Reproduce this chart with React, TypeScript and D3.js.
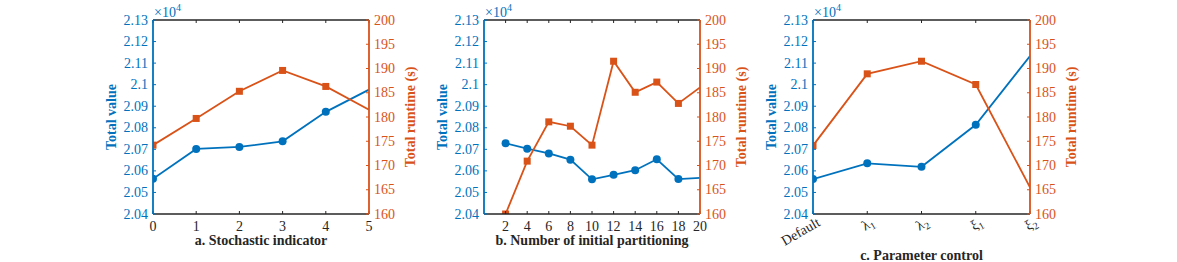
import React from 'react';
import * as d3 from 'd3';

// ---------- data ----------
const xA = [0, 1, 2, 3, 4, 5];
const valueA = [20563, 20702, 20711, 20737, 20874, 20977];
const runtimeA = [174.2, 179.7, 185.3, 189.6, 186.3, 181.5];

const xB = [2, 4, 6, 8, 10, 12, 14, 16, 18, 20];
const valueB = [20728, 20703, 20681, 20652, 20561, 20582, 20603, 20654, 20562, 20568];
const runtimeB = [160.0, 170.9, 179.0, 178.1, 174.2, 191.5, 185.1, 187.2, 182.8, 186.1];

const catsC = ['Default', 'λ1', 'λ2', 'ξ1', 'ξ2'];
const valueC = [20562, 20635, 20619, 20814, 21133];
const runtimeC = [174.1, 188.9, 191.5, 186.7, 165.5];

const leftTicks = [20400, 20500, 20600, 20700, 20800, 20900, 21000, 21100, 21200, 21300];
const rightTicks = [160, 165, 170, 175, 180, 185, 190, 195, 200];
const ticksA = [0, 1, 2, 3, 4, 5];
const ticksB = [2, 4, 6, 8, 10, 12, 14, 16, 18, 20];

const titles = ['a. Stochastic indicator', 'b. Number of initial partitioning', 'c. Parameter control'];

// ---------- style ----------
const BLUE = '#0072BD';
const ORANGE = '#D95319';
const DARK = '#262626';
const FONT = "'Liberation Serif', 'Times New Roman', Times, serif";
const TOP = 20;
const BOTTOM = 214;

type PanelProps = {
  id: string;
  left: number;
  right: number;
  xs: (number | string)[];
  values: number[];
  runtimes: number[];
  kind: 'linear' | 'point';
  xDomain?: [number, number];
  xTicks?: (number | string)[];
  title: string;
  titleY: number;
};

const T = (props: any) => <text {...props} style={{ fontFamily: FONT }} />;

function CatLabel({ s }: { s: string }) {
  if (s.length === 2 && /[0-9]/.test(s[1])) {
    return (
      <>
        {s[0]}
        <tspan fontSize={10} dy={3}>{s[1]}</tspan>
      </>
    );
  }
  return <>{s}</>;
}

function Panel(p: PanelProps) {
  const yL = d3.scaleLinear().domain([20400, 21300]).range([BOTTOM, TOP]);
  const yR = d3.scaleLinear().domain([160, 200]).range([BOTTOM, TOP]);
  let xPos: (v: any) => number;
  let ticks: any[];
  if (p.kind === 'linear') {
    const xs = d3.scaleLinear().domain(p.xDomain!).range([p.left, p.right]);
    xPos = (v) => xs(v as number);
    ticks = p.xTicks!;
  } else {
    const xs = d3.scalePoint<string>().domain(p.xs as string[]).range([p.left, p.right]).padding(0);
    xPos = (v) => xs(v as string)!;
    ticks = p.xs;
  }
  const lineL = d3.line<number>().x((_, i) => xPos(p.xs[i])).y((d) => yL(d));
  const lineR = d3.line<number>().x((_, i) => xPos(p.xs[i])).y((d) => yR(d));
  const clipId = 'clip-' + p.id;
  const mid = (p.left + p.right) / 2;
  const yMid = (TOP + BOTTOM) / 2;
  const n = p.values.length;
  const fmt = (v: number) => String(Number((v / 1e4).toFixed(2)));
  return (
    <g>
      <defs>
        <clipPath id={clipId}>
          <rect x={p.left} y={TOP} width={p.right - p.left} height={BOTTOM - TOP} />
        </clipPath>
      </defs>
      <g clipPath={`url(#${clipId})`}>
        <path d={lineL(p.values)!} fill="none" stroke={BLUE} strokeWidth={1.8} />
        <path d={lineR(p.runtimes)!} fill="none" stroke={ORANGE} strokeWidth={1.8} />
        {p.values.slice(0, n - 1).map((v, i) => (
          <circle key={'c' + i} cx={xPos(p.xs[i])} cy={yL(v)} r={4} fill={BLUE} />
        ))}
        {p.runtimes.slice(0, n - 1).map((v, i) => (
          <rect key={'s' + i} x={xPos(p.xs[i]) - 3.5} y={yR(v) - 3.5} width={7} height={7} fill={ORANGE} />
        ))}
      </g>
      <line x1={p.left} x2={p.right} y1={BOTTOM} y2={BOTTOM} stroke={DARK} strokeWidth={1.3} />
      <line x1={p.left} x2={p.right} y1={TOP} y2={TOP} stroke={DARK} strokeWidth={1.3} />
      {ticks.map((t, i) => (
        <g key={'xt' + i}>
          <line x1={xPos(t)} x2={xPos(t)} y1={BOTTOM} y2={BOTTOM - 3} stroke={DARK} strokeWidth={1} />
          <line x1={xPos(t)} x2={xPos(t)} y1={TOP} y2={TOP + 3} stroke={DARK} strokeWidth={1} />
          {p.kind === 'linear' ? (
            <T x={xPos(t)} y={231} textAnchor="middle" fontSize={14} fill={DARK}>{t}</T>
          ) : (
            <T transform={`translate(${xPos(t) + 8},${225}) rotate(-30)`} textAnchor="end" fontSize={14} fill={DARK}>
              <CatLabel s={t} />
            </T>
          )}
        </g>
      ))}
      <line x1={p.left} x2={p.left} y1={TOP} y2={BOTTOM} stroke={BLUE} strokeWidth={1.8} />
      {leftTicks.map((t) => (
        <g key={'lt' + t}>
          <line x1={p.left} x2={p.left + 3} y1={yL(t)} y2={yL(t)} stroke={BLUE} strokeWidth={1} />
          <T x={p.left - 5} y={yL(t) + 4.5} textAnchor="end" fontSize={14} fill={BLUE}>{fmt(t)}</T>
        </g>
      ))}
      <line x1={p.right} x2={p.right} y1={TOP} y2={BOTTOM} stroke={ORANGE} strokeWidth={1.8} />
      {rightTicks.map((t) => (
        <g key={'rt' + t}>
          <line x1={p.right} x2={p.right - 3} y1={yR(t)} y2={yR(t)} stroke={ORANGE} strokeWidth={1} />
          <T x={p.right + 5} y={yR(t) + 4.5} textAnchor="start" fontSize={14} fill={ORANGE}>{t}</T>
        </g>
      ))}
      <T x={p.left + 1} y={17} fontSize={14} fill={BLUE}>
        ×10<tspan fontSize={10} dy={-6}>4</tspan>
      </T>
      <T transform={`translate(${p.left - 37},${yMid}) rotate(-90)`} textAnchor="middle" fontSize={14} fontWeight="bold" fill={BLUE}>Total value</T>
      <T transform={`translate(${p.right + 46},${yMid}) rotate(-90)`} textAnchor="middle" fontSize={14} fontWeight="bold" fill={ORANGE}>Total runtime (s)</T>
      <T x={mid} y={p.titleY} textAnchor="middle" fontSize={14} fontWeight="bold" fill={DARK}>{p.title}</T>
    </g>
  );
}

export default function App() {
  return (
    <svg width={1177} height={262} style={{ position: 'absolute', left: 0, top: 0, background: '#fff' }}>
      <rect x={0} y={0} width={1177} height={262} fill="#fff" />
      <Panel id="a" left={153} right={369} xs={xA} values={valueA} runtimes={runtimeA} kind="linear" xDomain={[0, 5]} xTicks={ticksA} title={titles[0]} titleY={245} />
      <Panel id="b" left={484} right={700} xs={xB} values={valueB} runtimes={runtimeB} kind="linear" xDomain={[0, 20]} xTicks={ticksB} title={titles[1]} titleY={245} />
      <Panel id="c" left={813} right={1030} xs={catsC} values={valueC} runtimes={runtimeC} kind="point" title={titles[2]} titleY={260} />
    </svg>
  );
}
